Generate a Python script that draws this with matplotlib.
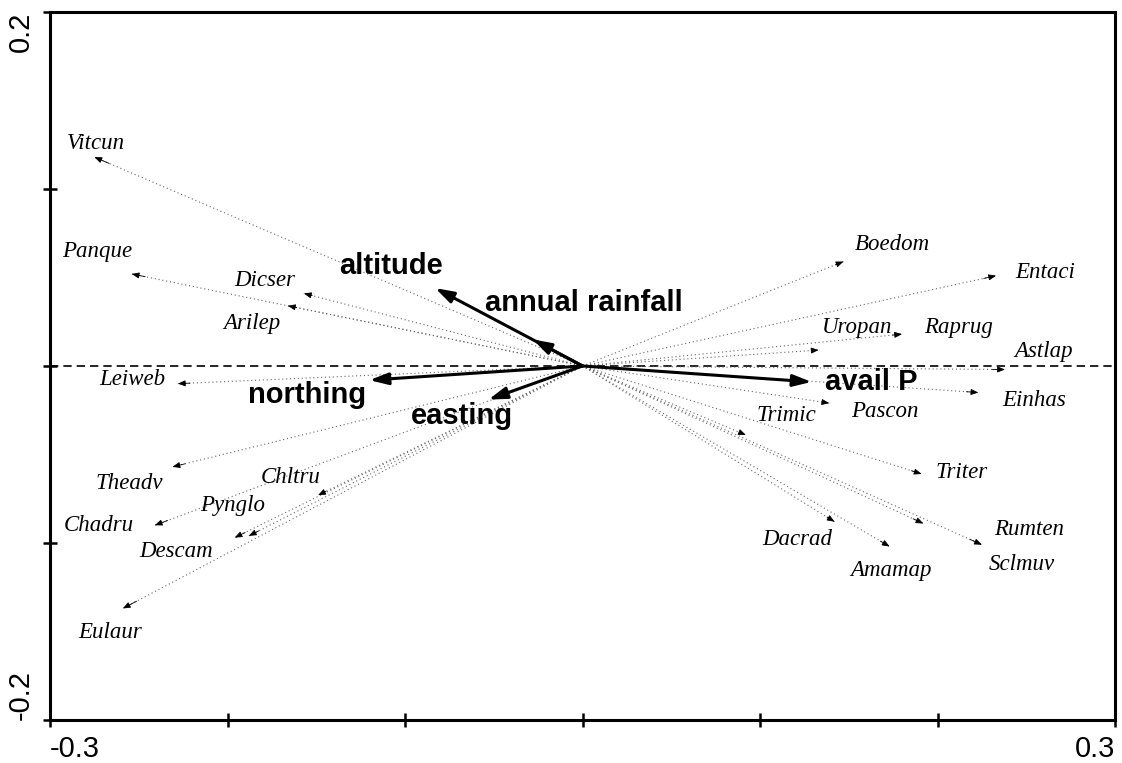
import matplotlib.pyplot as plt

# species scores (axis 1, axis 2)
species = ["Vitcun", "Panque", "Dicser", "Arilep", "Leiweb", "Theadv", "Chadru",
           "Pynglo", "Descam", "Chltru", "Eulaur",
           "Boedom", "Entaci", "Uropan", "Raprug", "Astlap", "Einhas", "Pascon",
           "Trimic", "Triter", "Rumten", "Sclmuv", "Dacrad", "Amamap"]
sp_x = [-0.275, -0.254, -0.157, -0.166, -0.228, -0.231, -0.241,
        -0.188, -0.196, -0.149, -0.259,
        0.147, 0.233, 0.133, 0.180, 0.238, 0.223, 0.139,
        0.092, 0.191, 0.192, 0.225, 0.142, 0.173]
sp_y = [0.118, 0.052, 0.041, 0.034, -0.010, -0.057, -0.090,
        -0.096, -0.097, -0.073, -0.137,
        0.059, 0.051, 0.009, 0.018, -0.002, -0.015, -0.021,
        -0.039, -0.061, -0.089, -0.101, -0.088, -0.102]

# environmental variables
env = ["altitude", "annual rainfall", "northing", "easting", "avail P"]
env_x = [-0.083, -0.028, -0.120, -0.053, 0.129]
env_y = [0.044, 0.015, -0.008, -0.019, -0.009]

# label offsets from the arrow tip, in points
sp_offset = {
    "Vitcun": (1, 10), "Panque": (-25, 16), "Dicser": (-28, 9), "Arilep": (-26, -13),
    "Leiweb": (-33, 3), "Theadv": (-31, -12), "Chadru": (-40, 0), "Pynglo": (-12, 22),
    "Descam": (-42, -10), "Chltru": (-20, 13), "Eulaur": (-9, -17),
    "Boedom": (35, 12), "Entaci": (35, 2), "Uropan": (28, 16), "Raprug": (41, 5),
    "Astlap": (28, 13), "Einhas": (40, -6), "Pascon": (40, -6), "Trimic": (29, 14),
    "Triter": (29, 1), "Rumten": (76, -4), "Sclmuv": (29, -14), "Dacrad": (-27, -13),
    "Amamap": (1, -17),
}
env_offset = {
    "altitude": (-32, 16), "annual rainfall": (37, 26), "northing": (-45, -11),
    "easting": (-19, -12), "avail P": (43, 0),
}

fig = plt.figure(figsize=(11.22, 7.63), dpi=100)
ax = fig.add_axes([0.0446, 0.0564, 0.9492, 0.9279])

ax.axhline(0, color="black", lw=1.2, ls=(0, (5, 3)), zorder=1)

for name, x, y in zip(species, sp_x, sp_y):
    ax.plot([0, x], [0, y], color="0.4", lw=0.8, ls=(0, (1, 2.5)), zorder=2)
    ax.annotate("", xy=(x, y), xytext=(x * 0.97, y * 0.97),
                arrowprops=dict(arrowstyle="-|>,head_length=0.45,head_width=0.18",
                                color="black", lw=0.6, shrinkA=0, shrinkB=0))
    dx, dy = sp_offset[name]
    ax.annotate(name, xy=(x, y), xytext=(dx, dy), textcoords="offset points",
                ha="center", va="center", fontsize=16.5, style="italic",
                family="Liberation Serif")

for name, x, y in zip(env, env_x, env_y):
    ax.annotate("", xy=(x, y), xytext=(0, 0),
                arrowprops=dict(arrowstyle="-|>,head_length=1.1,head_width=0.35",
                                color="black", lw=2.2, shrinkA=0, shrinkB=0),
                zorder=4)
    dx, dy = env_offset[name]
    ax.annotate(name, xy=(x, y), xytext=(dx, dy), textcoords="offset points",
                ha="center", va="center", fontsize=21, fontweight="bold",
                family="Liberation Sans")

ax.set_xlim(-0.3, 0.3)
ax.set_ylim(-0.2, 0.2)
ax.set_xticks([-0.3, -0.2, -0.1, 0, 0.1, 0.2, 0.3])
ax.set_xticklabels(["-0.3", "", "", "", "", "", "0.3"])
ax.set_yticks([-0.2, -0.1, 0, 0.1, 0.2])
ax.set_yticklabels(["-0.2", "", "", "", "0.2"], rotation=90)
ax.tick_params(direction="inout", length=10, width=1.8, labelsize=21, pad=6)
for lab in ax.get_xticklabels() + ax.get_yticklabels():
    lab.set_family("Liberation Sans")
xl = ax.get_xticklabels()
xl[0].set_ha("left")
xl[-1].set_ha("right")
yl = ax.get_yticklabels()
yl[0].set_va("bottom")
yl[-1].set_va("top")
for sp in ax.spines.values():
    sp.set_linewidth(2.2)

fig.savefig("out.png", dpi=100)
